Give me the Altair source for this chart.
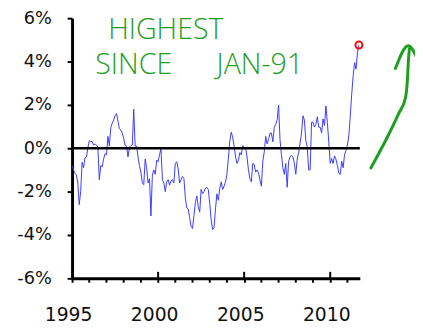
import altair as alt
import pandas as pd

start_year = 1995
values = [
    -0.80, -1.00, -1.15, -1.23, -1.60, -2.60, -2.00, -0.65, -0.90, -0.45,
    -0.40, 0.00, 0.35, 0.30, 0.32, 0.15, 0.20, 0.15, 0.05, -1.45,
    -0.80, -0.85, -0.50, -0.25, -0.30, 0.55, 0.10, 0.95, 1.15, 1.30,
    1.50, 1.60, 1.25, 0.90, 0.85, 0.70, 0.45, 0.14, 0.10, -0.40,
    0.05, 0.12, 0.15, 1.80, 0.10, 0.10, -0.40, -0.80, -1.10, -1.60,
    -1.68, -0.50, -0.90, -1.60, -1.40, -3.12, -1.23, -1.00, -1.20, -0.55,
    -0.62, -0.30, 0.00, -1.45, -1.60, -2.00, -1.55, -1.45, -1.70, -1.50,
    -1.45, -1.60, -0.70, -0.62, -0.95, -1.60, -1.45, -1.30, -1.40, -2.30,
    -2.75, -2.80, -3.20, -3.60, -3.70, -3.10, -2.50, -2.20, -2.70, -2.95,
    -1.90, -2.10, -2.00, -1.85, -1.80, -1.90, -2.55, -3.30, -3.75, -3.65,
    -2.80, -2.10, -2.40, -1.85, -1.55, -1.90, -1.75, -1.55, -1.20, -0.45,
    0.35, 0.74, 0.50, 0.10, -0.40, -0.70, -0.55, -0.20, -0.30, 0.12,
    0.00, 0.05, -0.40, -1.00, -1.40, -1.55, -0.70, -0.75, -1.10, -1.00,
    -1.15, -1.45, -1.75, -0.60, -0.17, 0.55, 0.20, 0.40, 0.70, 0.70,
    0.30, 0.97, 1.10, 1.30, 2.00, 0.40, -0.30, -0.90, -1.20, -0.70,
    -1.80, -0.60, -0.40, -0.32, -0.40, -0.70, -1.20, -0.50, -0.20, 0.25,
    0.70, 1.50, 1.30, 0.35, 0.05, -1.00, -1.00, 1.20, 1.20, 0.98,
    1.10, 1.45, 0.97, 0.97, 0.70, 1.35, 1.05, 1.95, 1.20, 0.30,
    -0.70, -0.47, -0.70, -0.35, -0.50, -0.80, -1.15, -1.20, -0.60, -0.90,
    -0.30, -0.10, 0.15, 0.60, 1.50, 2.50, 3.35, 3.95, 3.65, 4.40,
    4.76,
]
x_label_years = [1995, 2000, 2005, 2010]
minor_tick_years = [1996, 1997, 1998, 1999, 2001, 2002, 2003, 2004,
                    2006, 2007, 2008, 2009, 2011]
major_tick_years = [2000, 2005, 2010]
y_ticks = [-6, -4, -2, 0, 2, 4, 6]

# annotation (hand-drawn note) in data coordinates
note_text = ["HIGHEST", "SINCE", "JAN-91"]
note_x = [1997.1, 1996.35, 2003.4]
note_y = [5.45, 3.82, 3.82]
arrow_seg = [0, 0, 0, 0, 0, 0, 0, 1, 1, 1]
arrow_x = [2012.36, 2013.22, 2013.97, 2014.37, 2014.48, 2014.54, 2014.6, 2013.79, 2014.54, 2015.0]
arrow_y = [-0.91, 0.36, 1.59, 2.32, 3.09, 4.0, 4.59, 3.68, 4.73, 4.23]

df = pd.DataFrame({"x": [start_year + i / 12 for i in range(len(values))], "y": values})
last = df.tail(1)
notes = pd.DataFrame({"x": note_x, "y": note_y, "label": note_text})
arrow = pd.DataFrame({"x": arrow_x, "y": arrow_y, "seg": arrow_seg, "i": list(range(len(arrow_x)))})
major_df = pd.DataFrame({"x": major_tick_years})
minor_df = pd.DataFrame({"x": minor_tick_years})
zero_df = pd.DataFrame({"y": [0]})

X = alt.X(
    "x:Q",
    title=None,
    scale=alt.Scale(domain=[1995, 2011.72], nice=False, zero=False),
    axis=alt.Axis(
        values=x_label_years,
        format="d",
        grid=False,
        tickSize=4,
        tickWidth=2,
        tickColor="black",
        domainColor="black",
        domainWidth=3,
        labelFont="DejaVu Sans",
        labelFontSize=19,
        labelColor="#111",
        labelPadding=24,
        labelOverlap=False,
        labelFlush=False,
        labelOffset=-4,
    ),
)
Y = alt.Y(
    "y:Q",
    title=None,
    scale=alt.Scale(domain=[-6, 6], nice=False),
    axis=alt.Axis(
        values=y_ticks,
        labelExpr="datum.value + '%'",
        grid=False,
        tickSize=5,
        tickWidth=2,
        tickColor="black",
        domainColor="black",
        domainWidth=3,
        labelFont="DejaVu Sans",
        labelFontSize=18,
        labelColor="#111",
        labelPadding=16,
    ),
)

line = alt.Chart(df).mark_line(color="#3b3bff", strokeWidth=1).encode(x=X, y=Y)
zero = alt.Chart(zero_df).mark_rule(color="black", strokeWidth=2.5).encode(y=alt.Y("y:Q"))
major = alt.Chart(major_df).mark_rule(color="black", strokeWidth=2).encode(
    x=alt.X("x:Q"), y=alt.datum(-6), y2=alt.datum(-5.7)
)
minor = alt.Chart(minor_df).mark_rule(color="black", strokeWidth=2).encode(
    x=alt.X("x:Q"), y=alt.datum(-6), y2=alt.datum(-6.2)
)
marker = alt.Chart(last).mark_point(
    shape="circle", filled=False, color="red", strokeWidth=2, size=50, opacity=1
).encode(x="x:Q", y="y:Q")
text = alt.Chart(notes).mark_text(
    align="left", baseline="middle", font="Open Sans", fontWeight=300,
    fontSize=29, color="#1e9e1e"
).encode(x="x:Q", y="y:Q", text="label:N")
arr = alt.Chart(arrow).mark_line(
    color="#1e9e1e", strokeWidth=3, strokeCap="round", strokeJoin="round", interpolate="monotone"
).encode(x="x:Q", y="y:Q", detail="seg:N", order="i:Q")

chart = alt.layer(line, zero, major, minor, marker, text, arr).properties(
    width=292,
    height=264,
    autosize=alt.AutoSizeParams(type="none"),
    padding={"left": 65, "top": 8, "right": 56, "bottom": 45},
).configure_view(stroke=None)

chart.save("out.html", embed_options={"renderer": "svg", "actions": False})
